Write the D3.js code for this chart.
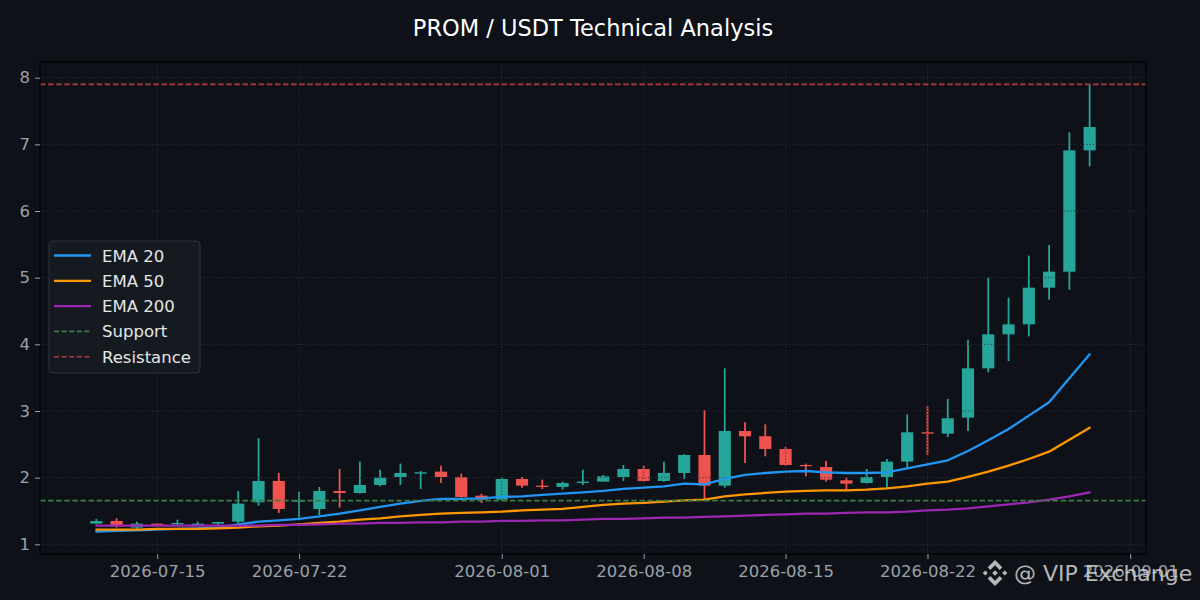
<!DOCTYPE html>
<html>
<head>
<meta charset="utf-8">
<script src="https://cdn.jsdelivr.net/npm/d3@7"></script>
<style>
  html, body { margin: 0; padding: 0; background: #0e1117; }
  svg { display: block; font-family: "DejaVu Sans", sans-serif; }
</style>
</head>
<body>
<svg id="chart" width="1200" height="600"></svg>
<script>
// daily candles, PROM / USDT
var dates = [
  "2026-07-12","2026-07-13","2026-07-14","2026-07-15","2026-07-16","2026-07-17","2026-07-18","2026-07-19","2026-07-20","2026-07-21",
  "2026-07-22","2026-07-23","2026-07-24","2026-07-25","2026-07-26","2026-07-27","2026-07-28","2026-07-29","2026-07-30","2026-07-31",
  "2026-08-01","2026-08-02","2026-08-03","2026-08-04","2026-08-05","2026-08-06","2026-08-07","2026-08-08","2026-08-09","2026-08-10",
  "2026-08-11","2026-08-12","2026-08-13","2026-08-14","2026-08-15","2026-08-16","2026-08-17","2026-08-18","2026-08-19","2026-08-20",
  "2026-08-21","2026-08-22","2026-08-23","2026-08-24","2026-08-25","2026-08-26","2026-08-27","2026-08-28","2026-08-29","2026-08-30"
];
var opens = [
  1.31, 1.35, 1.25, 1.31, 1.30, 1.29, 1.31, 1.34, 1.63, 1.95,
  1.64, 1.53, 1.80, 1.77, 1.89, 2.01, 2.06, 2.09, 2.01, 1.73,
  1.67, 1.98, 1.88, 1.86, 1.92, 1.94, 2.01, 2.13, 1.95, 2.07,
  2.34, 1.88, 2.70, 2.62, 2.43, 2.19, 2.16, 1.96, 1.92, 2.01,
  2.24, 2.68, 2.66, 2.90, 3.64, 4.15, 4.30, 4.85, 5.09, 6.91
];
var highs = [
  1.38, 1.39, 1.34, 1.32, 1.37, 1.34, 1.34, 1.80, 2.59, 2.07,
  1.79, 1.86, 2.13, 2.24, 2.12, 2.21, 2.10, 2.18, 2.06, 1.76,
  2.01, 2.01, 1.97, 1.94, 2.12, 2.04, 2.19, 2.18, 2.24, 2.35,
  3.01, 3.64, 2.83, 2.80, 2.46, 2.21, 2.25, 2.00, 2.13, 2.28,
  2.95, 3.07, 3.18, 4.07, 5.00, 4.70, 5.33, 5.49, 7.18, 7.90
];
var lows = [
  1.30, 1.25, 1.23, 1.28, 1.29, 1.28, 1.29, 1.31, 1.58, 1.47,
  1.36, 1.44, 1.55, 1.76, 1.87, 1.89, 1.83, 1.92, 1.70, 1.62,
  1.65, 1.85, 1.83, 1.82, 1.89, 1.94, 1.95, 1.94, 1.94, 1.98,
  1.68, 1.85, 2.22, 2.32, 2.18, 2.02, 1.94, 1.82, 1.91, 1.85,
  2.15, 2.34, 2.61, 2.70, 3.58, 3.75, 4.12, 4.67, 4.82, 6.67
];
var closes = [
  1.35, 1.27, 1.31, 1.29, 1.32, 1.31, 1.335, 1.61, 1.95, 1.53,
  1.66, 1.80, 1.77, 1.89, 2.00, 2.07, 2.08, 2.01, 1.71, 1.67,
  1.98, 1.88, 1.86, 1.92, 1.94, 2.02, 2.13, 1.95, 2.07, 2.34,
  1.88, 2.70, 2.62, 2.43, 2.19, 2.18, 1.97, 1.91, 2.01, 2.24,
  2.68, 2.66, 2.89, 3.64, 4.15, 4.30, 4.85, 5.09, 6.91, 7.26
];
var ema20 = [
  1.19, 1.20, 1.21, 1.22, 1.23, 1.24, 1.25, 1.30, 1.34, 1.36,
  1.38, 1.42, 1.46, 1.51, 1.56, 1.61, 1.65, 1.68, 1.68, 1.69,
  1.71, 1.72, 1.74, 1.76, 1.78, 1.80, 1.83, 1.85, 1.87, 1.91,
  1.90, 1.98, 2.04, 2.07, 2.09, 2.10, 2.08, 2.07, 2.07, 2.08,
  2.14, 2.20, 2.26, 2.40, 2.56, 2.73, 2.93, 3.13, 3.49, 3.85
];
var ema50 = [
  1.22, 1.22, 1.22, 1.23, 1.23, 1.23, 1.24, 1.25, 1.27, 1.28,
  1.30, 1.32, 1.34, 1.37, 1.39, 1.42, 1.44, 1.46, 1.47, 1.48,
  1.49, 1.51, 1.52, 1.53, 1.56, 1.59, 1.61, 1.62, 1.64, 1.66,
  1.67, 1.72, 1.75, 1.77, 1.79, 1.80, 1.81, 1.81, 1.82, 1.84,
  1.87, 1.91, 1.94, 2.01, 2.09, 2.18, 2.28, 2.39, 2.57, 2.75
];
var ema200 = [
  1.28, 1.28, 1.28, 1.28, 1.28, 1.28, 1.28, 1.28, 1.28, 1.29,
  1.29, 1.30, 1.31, 1.31, 1.32, 1.32, 1.33, 1.33, 1.34, 1.34,
  1.35, 1.35, 1.36, 1.36, 1.37, 1.38, 1.38, 1.39, 1.40, 1.40,
  1.41, 1.42, 1.43, 1.44, 1.45, 1.46, 1.46, 1.47, 1.48, 1.48,
  1.49, 1.51, 1.52, 1.54, 1.57, 1.60, 1.63, 1.67, 1.72, 1.78
];
var supportLevel = 1.655;
var resistanceLevel = 7.90;
var xTickLabels = ["2026-07-15","2026-07-22","2026-08-01","2026-08-08","2026-08-15","2026-08-22","2026-09-01"];
var yTickValues = [1, 2, 3, 4, 5, 6, 7, 8];

var W = 1200, H = 600;
var m = { left: 40, top: 62, right: 1146, bottom: 554 };
var upColor = "#26a69a", downColor = "#ef5350";
var bg = "#0e1117", gridColor = "#2b303a", tickColor = "#9ba1a9";

var parse = d3.utcParse("%Y-%m-%d");
var day = 864e5;
var candles = dates.map(function (d, i) {
  return { t: parse(d), o: opens[i], h: highs[i], l: lows[i], c: closes[i] };
});

// matplotlib-like autoscale: bar width 0.6 day, 5% margins
var t0 = +candles[0].t - 0.3 * day, t1 = +candles[candles.length - 1].t + 0.3 * day;
var tp = (t1 - t0) * 0.05;
var x = d3.scaleUtc().domain([new Date(t0 - tp), new Date(t1 + tp)]).range([m.left, m.right]);

var lo = d3.min([d3.min(lows), d3.min(ema20), d3.min(ema50), d3.min(ema200)]);
var hi = d3.max([d3.max(highs), resistanceLevel]);
var vp = (hi - lo) * 0.05;
var y = d3.scaleLinear().domain([lo - vp, hi + vp]).range([m.bottom, m.top]);

var svg = d3.select("#chart");
svg.append("rect").attr("width", W).attr("height", H).attr("fill", bg);
svg.append("rect").attr("x", m.left).attr("y", m.top)
  .attr("width", m.right - m.left).attr("height", m.bottom - m.top).attr("fill", bg);

var plot = svg.append("g");
var bw = x(new Date(+candles[0].t + 0.6 * day)) - x(candles[0].t);

// wicks + bodies
plot.selectAll("line.wick").data(candles).enter().append("line")
  .attr("x1", function (d) { return x(d.t); }).attr("x2", function (d) { return x(d.t); })
  .attr("y1", function (d) { return y(d.h); }).attr("y2", function (d) { return y(d.l); })
  .attr("stroke", function (d) { return d.c >= d.o ? upColor : downColor; })
  .attr("stroke-width", 1.8);
plot.selectAll("rect.body").data(candles).enter().append("rect")
  .attr("x", function (d) { return x(d.t) - bw / 2; })
  .attr("width", bw)
  .attr("y", function (d) { return y(Math.max(d.o, d.c)); })
  .attr("height", function (d) { return Math.max(1.2, Math.abs(y(d.o) - y(d.c))); })
  .attr("fill", function (d) { return d.c >= d.o ? upColor : downColor; });

// grid (drawn over the bodies, dotted)
var grid = svg.append("g").attr("stroke", gridColor).attr("stroke-width", 0.9).attr("stroke-dasharray", "1.2,2");
yTickValues.forEach(function (v) {
  grid.append("line").attr("x1", m.left).attr("x2", m.right).attr("y1", y(v)).attr("y2", y(v));
});
xTickLabels.forEach(function (s) {
  var xx = x(parse(s));
  grid.append("line").attr("x1", xx).attr("x2", xx).attr("y1", m.top).attr("y2", m.bottom);
});

// EMA lines
var series = [
  { name: "EMA 20", vals: ema20, color: "#2196f3" },
  { name: "EMA 50", vals: ema50, color: "#ff9800" },
  { name: "EMA 200", vals: ema200, color: "#9c27b0" }
];
var line = d3.line().x(function (d) { return x(d.t); }).y(function (d) { return y(d.v); });
series.forEach(function (s) {
  svg.append("path")
    .datum(s.vals.map(function (v, i) { return { t: candles[i].t, v: v }; }))
    .attr("d", line).attr("fill", "none").attr("stroke", s.color).attr("stroke-width", 2.3)
    .attr("stroke-linejoin", "round").attr("stroke-linecap", "round");
});

// support / resistance
var levels = [
  { name: "Support", v: supportLevel, color: "#3b7d45" },
  { name: "Resistance", v: resistanceLevel, color: "#b03a3a" }
];
levels.forEach(function (l) {
  svg.append("line").attr("x1", m.left).attr("x2", m.right)
    .attr("y1", y(l.v)).attr("y2", y(l.v))
    .attr("stroke", l.color).attr("stroke-width", 1.6).attr("stroke-dasharray", "5.5,2.6");
});

// spine
svg.append("rect").attr("x", m.left).attr("y", m.top)
  .attr("width", m.right - m.left).attr("height", m.bottom - m.top)
  .attr("fill", "none").attr("stroke", "#000").attr("stroke-width", 1.2);

// axes
var yAxis = d3.axisLeft(y).tickValues(yTickValues).tickSize(5).tickPadding(5).tickFormat(d3.format("d"));
var gy = svg.append("g").attr("transform", "translate(" + m.left + ",0)").call(yAxis);
var xAxis = d3.axisBottom(x).tickValues(xTickLabels.map(parse)).tickSize(5).tickPadding(6)
  .tickFormat(d3.utcFormat("%Y-%m-%d"));
var gx = svg.append("g").attr("transform", "translate(0," + m.bottom + ")").call(xAxis);
[gx, gy].forEach(function (g) {
  g.select(".domain").remove();
  g.selectAll(".tick line").attr("stroke", tickColor).attr("stroke-width", 1);
  g.selectAll(".tick text").attr("fill", tickColor).style("font-size", "16.5px")
    .style("font-family", "'DejaVu Sans', sans-serif");
});

// title
svg.append("text").attr("x", 593).attr("y", 36).attr("text-anchor", "middle")
  .attr("fill", "#ffffff").style("font-size", "22.5px").text("PROM / USDT Technical Analysis");

// legend
var lg = svg.append("g").attr("transform", "translate(49,241)");
lg.append("rect").attr("width", 151).attr("height", 132).attr("rx", 4)
  .attr("fill", "#151a21").attr("stroke", "#30353e").attr("stroke-width", 1);
var entries = series.map(function (s) { return { name: s.name, color: s.color, dash: null, w: 2.3 }; })
  .concat(levels.map(function (l) { return { name: l.name, color: l.color, dash: "5,2.6", w: 1.6 }; }));
entries.forEach(function (e, i) {
  var yy = 14.5 + i * 25.3;
  lg.append("line").attr("x1", 5).attr("x2", 42).attr("y1", yy).attr("y2", yy)
    .attr("stroke", e.color).attr("stroke-width", e.w).attr("stroke-dasharray", e.dash);
  lg.append("text").attr("x", 53).attr("y", yy + 6).attr("fill", "#e6e6e6")
    .style("font-size", "16.5px").text(e.name);
});

// watermark
var wm = svg.append("g").attr("opacity", 0.85).attr("fill", "#d4d4d4");
var s = 13, cx = 995, cy = 573;
function poly(pts) {
  return "M" + pts.map(function (p) { return (cx + p[0] * s) + "," + (cy + p[1] * s); }).join("L") + "Z";
}
wm.append("path").attr("d", poly([[0, -0.22], [0.22, 0], [0, 0.22], [-0.22, 0]]));
wm.append("path").attr("d", poly([[-0.75, -0.2], [-0.55, 0], [-0.75, 0.2], [-0.95, 0]]));
wm.append("path").attr("d", poly([[0.75, -0.2], [0.95, 0], [0.75, 0.2], [0.55, 0]]));
wm.append("path").attr("d", poly([[0, -1], [0.56, -0.44], [0.36, -0.24], [0, -0.6], [-0.36, -0.24], [-0.56, -0.44]]));
wm.append("path").attr("d", poly([[0, 1], [0.56, 0.44], [0.36, 0.24], [0, 0.6], [-0.36, 0.24], [-0.56, 0.44]]));
wm.append("text").attr("x", 1014).attr("y", 581).style("font-size", "22px").text("@ VIP Exchange");
</script>
</body>
</html>
